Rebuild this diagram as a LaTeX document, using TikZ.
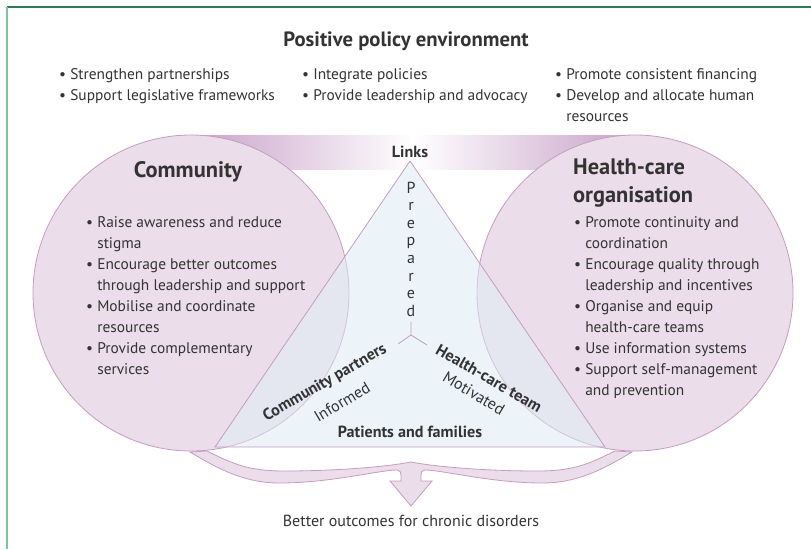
\documentclass[tikz,border=0pt]{standalone}
\usepackage{fontspec}
\setmainfont{PT Sans}
\usetikzlibrary{positioning}
\definecolor{circfill}{HTML}{EBDDE9}
\definecolor{circline}{HTML}{C69CC4}
\definecolor{trifill}{HTML}{ECF4FA}
\definecolor{lapfill}{HTML}{E4E6F0}
\definecolor{lapline}{HTML}{D8C2DA}
\definecolor{bandpurple}{HTML}{C8A2C8}
\definecolor{textgray}{HTML}{333333}
\definecolor{framedark}{HTML}{2E7A57}
\definecolor{framelight}{HTML}{7DC4A4}
\newcommand{\bul}{\textbullet\ }
\newcommand{\ind}{\phantom{\textbullet\ }}
\tikzset{
  txt/.style={font=\fontsize{15.4}{21}\selectfont, text=textgray, inner sep=0pt},
  blist/.style={txt, anchor=north west, align=left},
  head/.style={font=\bfseries\fontsize{22.4}{28}\selectfont, text=textgray, inner sep=0pt},
  lbl/.style={font=\bfseries\fontsize{16.1}{19}\selectfont, text=textgray, inner sep=0pt},
  soft/.style={font=\fontsize{16}{19}\selectfont, text=textgray, inner sep=0pt},
  outline/.style={draw=circline, line width=0.8pt}
}
\begin{document}
\begin{tikzpicture}[x=1pt,y=-1pt]
  \useasboundingbox (0,0) rectangle (811,549);
  % frame
  \draw[framedark, line width=1.4pt] (7,7) -- (811,7);
  \draw[framelight, line width=1.6pt] (7,7) -- (7,549);

  % links band
  \shade[left color=bandpurple, right color=bandpurple, middle color=white]
    (191,135) rectangle (635,169);

  % bracket with arrow
  \filldraw[outline, fill=circfill]
    (190,452) .. controls (220,470) and (245,483) .. (280,483)
    .. controls (330,483) and (380,470) .. (397,470)
    .. controls (400,470) and (401,472) .. (401,476)
    -- (401,481) -- (390,481) -- (411,506) -- (432,481) -- (421,481) -- (421,476)
    .. controls (421,472) and (422,470) .. (425,470)
    .. controls (442,470) and (492,483) .. (542,483)
    .. controls (577,483) and (602,470) .. (632,452)
    -- (615,451)
    .. controls (587,465) and (572,471) .. (537,471)
    .. controls (487,471) and (437,467) .. (411,462)
    .. controls (385,467) and (335,471) .. (285,471)
    .. controls (250,471) and (235,465) .. (207,451) -- cycle;

  % community and organisation
  \filldraw[outline, fill=circfill] (191,293) circle[radius=158pt];
  \filldraw[outline, fill=circfill] (635,293) circle[radius=158pt];

  % patients triangle
  \coordinate (apex) at (410,161);
  \coordinate (baseL) at (215,447);
  \coordinate (baseR) at (605,447);
  \fill[trifill] (apex) -- (baseL) -- (baseR) -- cycle;
  \begin{scope}
    \clip (apex) -- (baseL) -- (baseR) -- cycle;
    \filldraw[fill=lapfill, draw=lapline, line width=0.8pt]
      (191,293) circle[radius=158pt] (635,293) circle[radius=158pt];
  \end{scope}
  \draw[outline, line join=miter] (apex) -- (baseL) -- (baseR) -- cycle;

  % top text
  \node[font=\bfseries\fontsize{20.7}{24}\selectfont, text=textgray, inner sep=0pt]
    (policy) at (406,41) {Positive policy environment};
  \node[blist] (pol1) at (59,68) {\bul Strengthen partnerships\\\bul Support legislative frameworks};
  \node[blist] (pol2) at (302,68) {\bul Integrate policies\\\bul Provide leadership and advocacy};
  \node[blist] (pol3) at (555,68) {\bul Promote consistent financing\\\bul Develop and allocate human\\\ind resources};

  % circle text
  \node[head] (community) at (188,172) {Community};
  \node[blist] (comlist) at (86,216) {\bul Raise awareness and reduce\\\ind stigma\\
    \bul Encourage better outcomes\\\ind through leadership and support\\
    \bul Mobilise and coordinate\\\ind resources\\
    \bul Provide complementary\\\ind services};
  \node[head, anchor=north west, align=left] (hco) at (573,159) {Health-care\\organisation};
  \node[blist] (hcolist) at (574,216) {\bul Promote continuity and\\\ind coordination\\
    \bul Encourage quality through\\\ind leadership and incentives\\
    \bul Organise and equip\\\ind health-care teams\\
    \bul Use information systems\\
    \bul Support self-management\\\ind and prevention};

  % triangle text
  \node[lbl] (links) at (410,152) {Links};
  \foreach \l [count=\i] in {P,r,e,p,a,r,e,d}
    \node[soft, anchor=base] (prep\i) at (411,{193+17.6*(\i-1)}) {\l};
  \coordinate (ytop) at (411,322);
  \coordinate (yjoin) at (411,335);
  \coordinate (yleft) at (398,344);
  \coordinate (yright) at (427,345);
  \draw[outline] (ytop) -- (yjoin) -- (yleft) (yjoin) -- (yright);
  \node[lbl, rotate=30] (partners) at (325,383) {Community partners};
  \node[soft, rotate=31] (informed) at (342,402) {Informed};
  \node[lbl, rotate=-30] (hcteam) at (489,378) {Health-care team};
  \node[soft, rotate=-31] (motivated) at (474,393) {Motivated};
  \node[lbl] (patients) at (410,432) {Patients and families};

  % outcome
  \node[soft] (outcome) at (411,521) {Better outcomes for chronic disorders};
\end{tikzpicture}
\end{document}
